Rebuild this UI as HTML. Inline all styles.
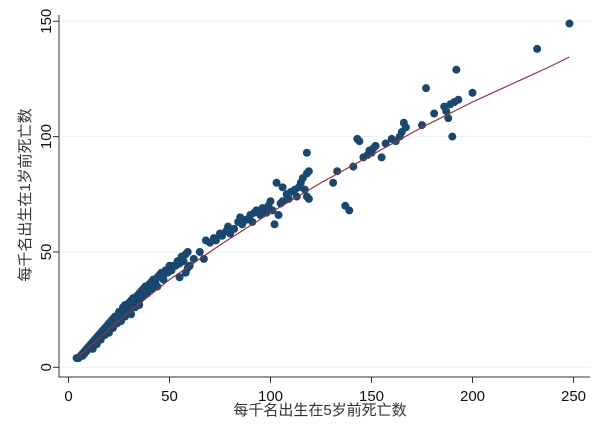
<!DOCTYPE html>
<html><head><meta charset="utf-8"><style>
body{margin:0;background:#fff;}
svg{display:block;font-family:"Liberation Sans","Noto Sans CJK SC",sans-serif;}
</style></head><body>
<svg id="chart" width="600" height="436">
<rect width="600" height="436" fill="#fff"/>
<g id="grid"></g><g id="axes"></g><g id="fit"></g><g id="pts"></g>
<text x="320" y="415" text-anchor="middle" font-size="15" fill="#333">每千名出生在5岁前死亡数</text>
<text transform="translate(30,195) rotate(-90)" text-anchor="middle" font-size="15" fill="#333">每千名出生在1岁前死亡数</text>
</svg>
<script>
const xVals=[4,5,6,7,7,8,8,9,9,10,10,11,11,12,12,13,13,14,14,15,15,16,16,17,17,18,18,19,19,20,20,21,21,22,22,23,23,24,24,25,25,26,27,27,28,28,29,30,30,31,31,32,32,33,34,34,35,35,36,37,37,38,38,39,40,40,41,42,42,43,44,45,46,46,47,48,49,50,50,51,52,53,54,55,56,57,58,59,59,60,58,55,62,65,67,68,70,72,73,75,76,78,79,80,82,84,85,86,88,90,91,92,93,95,96,98,99,100,101,102,103,104,105,106,106,108,109,110,112,113,114,115,116,117,118,119,118,119,118,131,133,137,139,141,143,144,146,148,150,151,152,149,155,157,160,162,164,165,166,167,175,177,181,186,187,188,189,190,191,192,193,200,232,248,12,14,18,20,24,26,29,33,36,39,44,47,16,22,28,31,35,41];
const yVals=[4,4,5,5,6,6,7,7,8,8,9,9,10,10,11,11,12,12,13,13,14,14,15,15,16,16,17,17,18,18,19,19,20,21,19,21,22,22,20,23,24,23,24,26,25,27,26,28,25,29,27,30,28,29,31,30,32,29,33,34,31,35,33,34,36,34,37,38,35,37,39,40,39,41,40,42,41,43,44,42,44,44,46,45,48,46,49,50,43,44,41,39,47,50,47,55,54,56,55,58,57,59,61,58,60,63,65,62,64,66,63,67,68,66,69,67,70,72,68,62,80,66,71,72,78,75,73,76,77,74,78,80,82,77,84,85,93,73,74,80,85,70,68,87,99,98,91,92,93,95,96,94,91,97,99,98,100,102,106,104,105,121,110,113,111,108,114,100,115,129,116,119,138,149,8,10,14,15,19,20,24,26,30,32,35,38,12,17,22,23,27,34];
const fitX=[4,10,20,30,40,50,62.5,75,87.5,100,112.5,125,137.5,150,162.5,175,187.5,200,212.5,225,237.5,248];
const fitY=[4,8.5,16.5,24,31,38,45.5,53,60,67,73.5,80,86,92,98,104,109.5,115,120,125,130,134.5];
const xTicks=[0,50,100,150,200,250];
const yTicks=[0,50,100,150];
const NS="http://www.w3.org/2000/svg";
const sx=v=>68.5+2.02*v, sy=v=>367.3-2.307*v;
function mk(tag,attrs,parent){const e=document.createElementNS(NS,tag);for(const k in attrs)e.setAttribute(k,attrs[k]);document.getElementById(parent).appendChild(e);return e;}
yTicks.forEach(t=>{
 const g=mk('line',{x1:59,x2:590,y1:sy(t),y2:sy(t),stroke:'#eaf2f3','stroke-width':1},'grid');
 
 
 const tk=mk('line',{x1:53,x2:59,y1:sy(t),y2:sy(t),stroke:'#333'},'axes');
 
 
 const lb=mk('text',{transform:`translate(51,${sy(t)}) rotate(-90)`,'text-anchor':'middle','font-size':15,fill:'#111'},'axes');
 lb.textContent=t;
 
 
});
xTicks.forEach(t=>{
 const tk=mk('line',{x1:sx(t),x2:sx(t),y1:377,y2:383,stroke:'#333'},'axes');
 
 
 const lb=mk('text',{x:sx(t),y:401,'text-anchor':'middle','font-size':15,fill:'#111'},'axes');
 lb.textContent=t;
 
 
});
const ax=mk('path',{d:'M59,15 V377 H590',fill:'none',stroke:'#333','stroke-width':1},'axes');


let d='';fitX.forEach((x,i)=>{d+=(i?'L':'M')+sx(x)+','+sy(fitY[i]);});
xVals.forEach((x,i)=>{
 const c=mk('circle',{cx:sx(x),cy:sy(yVals[i]),r:4,fill:'#1a476f'},'pts');
 
 
});
const fl=mk('path',{d:d,fill:'none',stroke:'#90353b','stroke-width':1.2},'pts');


</script>
</body></html>
